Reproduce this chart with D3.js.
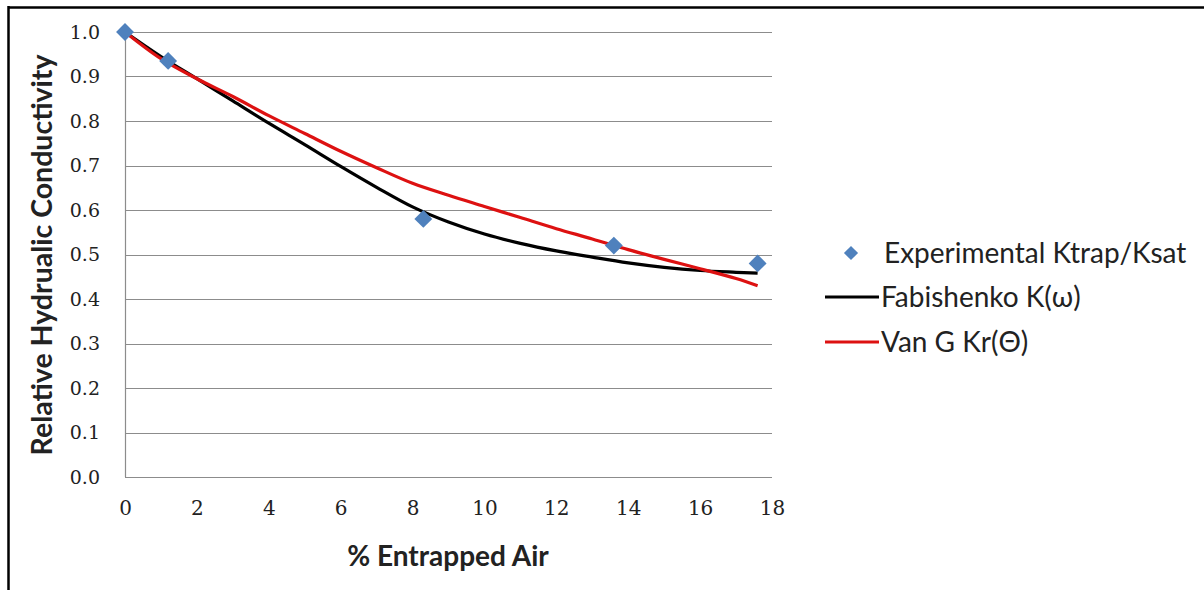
<!DOCTYPE html>
<html><head><meta charset="utf-8">
<script src="https://cdn.jsdelivr.net/npm/d3@7"></script>
<style>
html,body{margin:0;padding:0;background:#fff;}
svg{display:block;}
</style>
</head><body>
<svg id="chart" width="1204" height="590"></svg>
<script>
// Data
const expX = [0, 1.2, 8.3, 13.6, 17.6];
const expY = [1.0, 0.935, 0.58, 0.52, 0.48];
const curveX = [0, 1, 2, 3, 4, 5, 6, 7, 8, 9, 10, 11, 12, 13, 14, 15, 16, 17, 17.6];
const fabY = [1.0, 0.945, 0.895, 0.845, 0.795, 0.747, 0.698, 0.651, 0.607, 0.573, 0.546, 0.525, 0.508, 0.494, 0.481, 0.471, 0.464, 0.460, 0.458];
const vanY = [1.0, 0.94, 0.895, 0.855, 0.812, 0.772, 0.732, 0.695, 0.66, 0.633, 0.608, 0.583, 0.558, 0.535, 0.511, 0.489, 0.468, 0.446, 0.43];
const xTicks = [0, 2, 4, 6, 8, 10, 12, 14, 16, 18];
const yTicks = [0, 0.1, 0.2, 0.3, 0.4, 0.5, 0.6, 0.7, 0.8, 0.9, 1.0];
const legendLabels = ["Experimental Ktrap/Ksat", "Fabishenko K(\u03c9)", "Van G Kr(\u0398)"];

const svg = d3.select("#chart");
const x = d3.scaleLinear().domain([0, 18]).range([125, 772]);
const y = d3.scaleLinear().domain([0, 1]).range([477, 32]);

// frame
svg.append("line").attr("x1", 8).attr("x2", 1204).attr("y1", 7.5).attr("y2", 7.5).attr("stroke", "#000").attr("stroke-width", 2.5);
svg.append("line").attr("x1", 8.5).attr("x2", 8.5).attr("y1", 6).attr("y2", 590).attr("stroke", "#000").attr("stroke-width", 2.5);

// gridlines
svg.append("g").selectAll("line").data(yTicks).join("line")
  .attr("x1", x(0)).attr("x2", x(18))
  .attr("y1", d => Math.round(y(d)) + 0.5).attr("y2", d => Math.round(y(d)) + 0.5)
  .attr("stroke", "#8c8c8c").attr("stroke-width", 1.2);
svg.append("line").attr("x1", x(0) + 0.5).attr("x2", x(0) + 0.5).attr("y1", y(1)).attr("y2", y(0))
  .attr("stroke", "#8c8c8c").attr("stroke-width", 1.2);

const tickFont = "'DejaVu Serif', serif";
// y axis labels
const yAxis = d3.axisLeft(y).tickValues(yTicks).tickFormat(d3.format(".1f")).tickSize(0).tickPadding(25);
const gy = svg.append("g").attr("transform", `translate(${x(0)},0)`).call(yAxis);
gy.select(".domain").remove();
gy.selectAll("text").attr("font-family", tickFont).attr("font-size", 19).attr("fill", "#222");

const xAxis = d3.axisBottom(x).tickValues(xTicks).tickFormat(d3.format("d")).tickSize(0).tickPadding(24);
const gx = svg.append("g").attr("transform", `translate(0,${y(0)})`).call(xAxis);
gx.select(".domain").remove();
gx.selectAll("text").attr("font-family", tickFont).attr("font-size", 20).attr("fill", "#222");

// titles
svg.append("text").attr("x", 448).attr("y", 566).attr("text-anchor", "middle")
  .attr("font-family", "Lato, 'Open Sans', sans-serif").attr("font-weight", "bold").attr("font-size", 28).attr("fill", "#222")
  .text("% Entrapped Air");
svg.append("text").attr("transform", "translate(52,255) rotate(-90)").attr("text-anchor", "middle")
  .attr("font-family", "Lato, 'Open Sans', sans-serif").attr("font-weight", "bold").attr("font-size", 28.5).attr("fill", "#222")
  .text("Relative Hydrualic Conductivity");

// lines
const line = d3.line().x(d => x(d[0])).y(d => y(d[1])).curve(d3.curveCatmullRom);
svg.append("path").datum(curveX.map((v, i) => [v, fabY[i]]))
  .attr("d", line).attr("fill", "none").attr("stroke", "#000").attr("stroke-width", 3.2);
svg.append("path").datum(curveX.map((v, i) => [v, vanY[i]]))
  .attr("d", line).attr("fill", "none").attr("stroke", "#dd1111").attr("stroke-width", 3.2);

// diamonds
const sym = d3.symbol().type(d3.symbolSquare).size(160);
svg.append("g").selectAll("path").data(expX.map((v, i) => [v, expY[i]])).join("path")
  .attr("d", sym)
  .attr("transform", d => `translate(${x(d[0])},${y(d[1])}) rotate(45)`)
  .attr("fill", "#4f81bd");

// legend
const lg = svg.append("g");
lg.append("path").attr("d", d3.symbol().type(d3.symbolSquare).size(100))
  .attr("transform", "translate(851,253) rotate(45)").attr("fill", "#4f81bd");
lg.append("line").attr("x1", 825).attr("x2", 879).attr("y1", 297).attr("y2", 297).attr("stroke", "#000").attr("stroke-width", 3.2);
lg.append("line").attr("x1", 825).attr("x2", 879).attr("y1", 342).attr("y2", 342).attr("stroke", "#dd1111").attr("stroke-width", 3.2);
const lx = [884, 881, 881];
const ly = [253, 297, 342];
legendLabels.forEach((t, i) => {
  lg.append("text").attr("x", lx[i]).attr("y", ly[i]).attr("dy", "0.35em")
    .attr("font-family", "Lato, 'Open Sans', sans-serif").attr("font-size", 28).attr("fill", "#222").text(t);
});
</script>
</body></html>
